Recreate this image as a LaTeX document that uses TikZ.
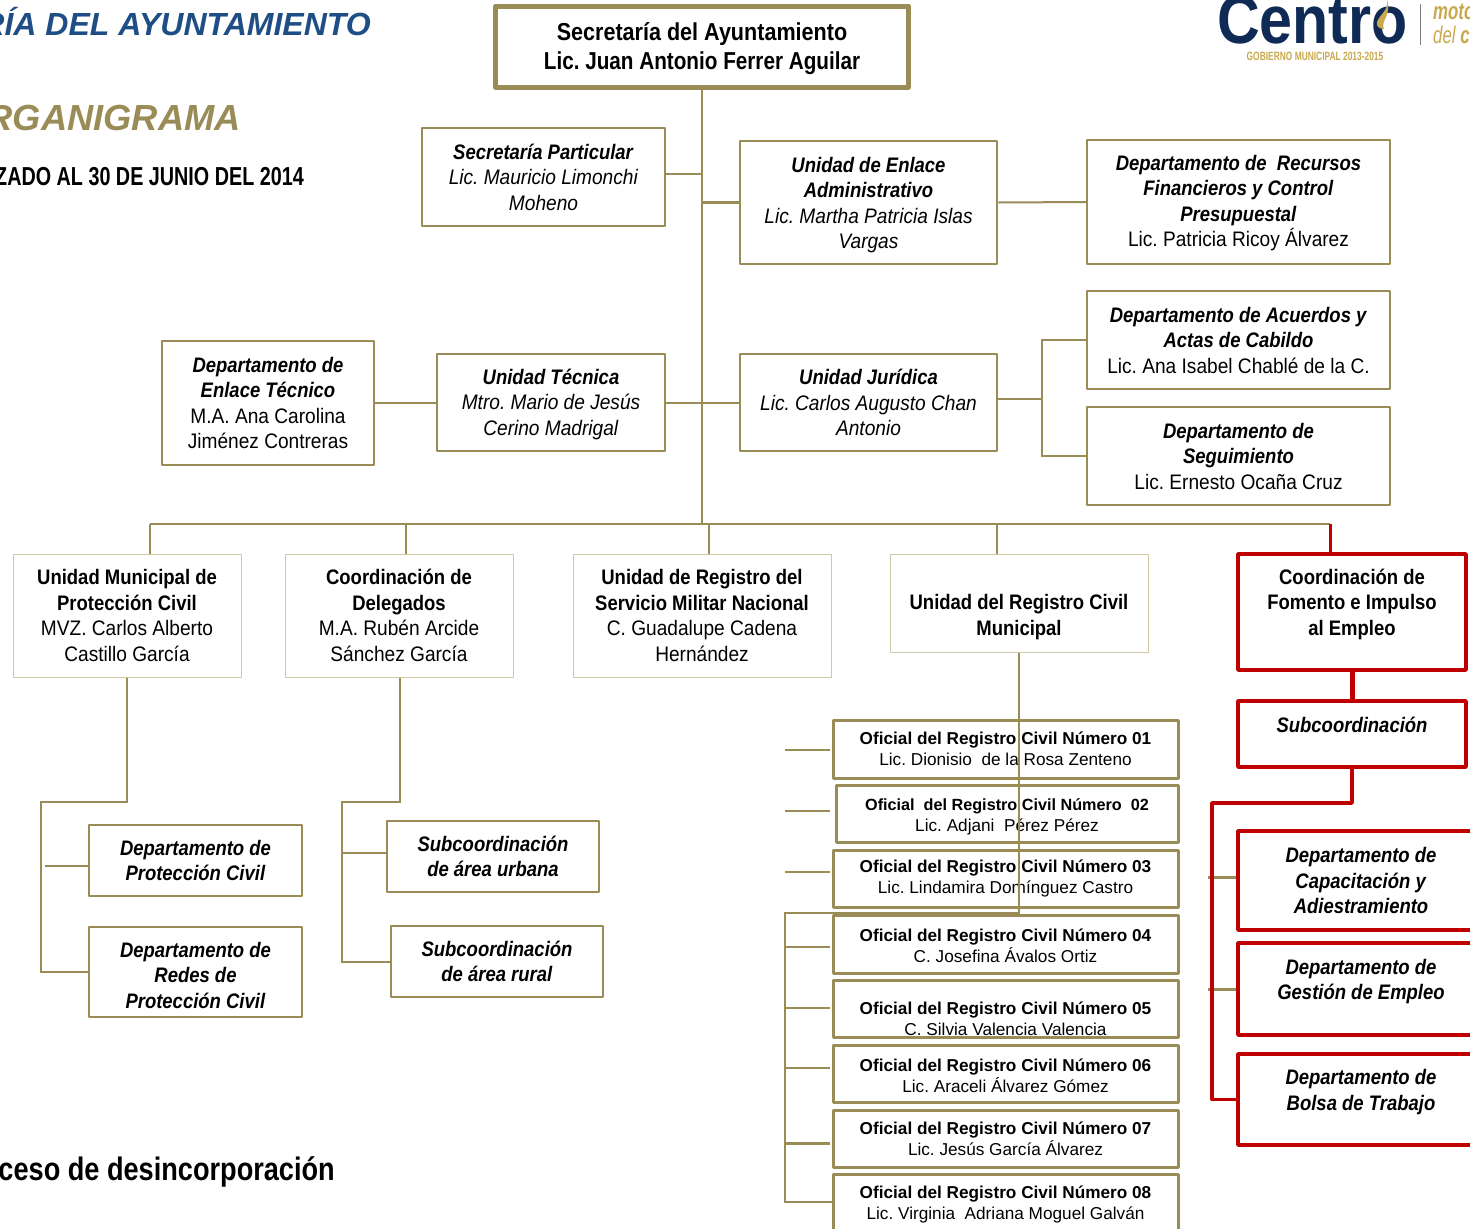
\documentclass[tikz,border=0pt]{standalone}
\usepackage{fontspec}
\setmainfont{Liberation Sans}
\newfontfamily\nar[FakeStretch=0.91,BoldFeatures={FakeStretch=0.88},BoldItalicFeatures={FakeStretch=0.88}]{Liberation Sans}
\newfontfamily\narb[FakeStretch=0.76]{Liberation Sans}
\newfontfamily\narf[FakeStretch=0.835]{Liberation Sans}
\newfontfamily\narl[FakeStretch=0.87]{Liberation Sans}
\newfontfamily\narc[FakeStretch=0.7]{Liberation Sans}
\AtBeginDocument{\frenchspacing}
\definecolor{gold}{HTML}{9A8C57}
\definecolor{pale}{HTML}{CFC9A8}
\definecolor{redl}{HTML}{C00000}
\definecolor{navy}{HTML}{1F4E86}
\definecolor{logon}{HTML}{0F2A55}
\definecolor{logog}{HTML}{C8A94E}
\tikzset{
 base/.style={draw=gold,align=center,inner sep=0pt,line join=round,font=\nar\fontsize{21}{25.5}\selectfont,text=black,fill=white},
 box/.style={base,line width=2.5pt},
 thin/.style={base,draw=pale,line width=1pt},
 redb/.style={base,draw=redl,line width=3.5pt},
 ofi/.style={base,line width=3pt,font=\fontsize{17.2}{21}\selectfont},
 ln/.style={draw=gold,line width=2pt},
 rl/.style={draw=redl,line width=3.5pt,line join=round},
}
\newcommand{\bt}[1]{\textbf{\textit{#1}}}
\newcommand{\ii}[1]{\textit{#1}}
\newcommand{\dn}[1]{\rule{0pt}{#1pt}}
\begin{document}
\begin{tikzpicture}[x=1pt,y=-1pt]
\useasboundingbox (0,0) rectangle (1470,1229);
\clip (0,0) rectangle (1470,1229);
% titles
\node[anchor=east,inner sep=0pt,text=navy,font=\fontsize{32}{36}\selectfont\bfseries\itshape] (t1) at (371,22) {RÍA DEL AYUNTAMIENTO};
\node[anchor=east,inner sep=0pt,text=gold,font=\fontsize{36.3}{40}\selectfont\bfseries\itshape] (t2) at (241,118) {RGANIGRAMA};
\node[anchor=east,inner sep=0pt,font=\narb\fontsize{26}{30}\selectfont\bfseries] (t3) at (304,177) {ZADO AL 30 DE JUNIO DEL 2014};
\node[anchor=east,inner sep=0pt,font=\narf\fontsize{32.5}{36}\selectfont\bfseries] (t4) at (335,1172) {ceso de desincorporación};
% logo
\node[anchor=east,inner sep=0pt,text=logon,font=\narl\fontsize{68}{70}\selectfont\bfseries] (lg) at (1408,20) {Centro};
\fill[logog] (1387,0) .. controls (1389,10) and (1380,14) .. (1377,22) .. controls (1376,27) and (1380,29) .. (1384,29) .. controls (1380,22) and (1392,14) .. (1387,0) -- cycle;
\node[anchor=center,inner sep=0pt,text=logog,font=\narc\fontsize{12}{14}\selectfont\bfseries] (lg2) at (1315,56) {GOBIERNO MUNICIPAL 2013-2015};
\node[anchor=west,inner sep=0pt,text=logog,font=\narc\fontsize{24}{25}\selectfont\bfseries\itshape] (lg3) at (1433,12) {moto};
\node[anchor=west,inner sep=0pt,text=logog,font=\narc\fontsize{24}{25}\selectfont\itshape] (lg4) at (1433,35) {del \textbf{c}};
\coordinate (ba) at (1420,4); \coordinate (bb) at (1420,45);
\draw[gray,line width=1pt] (ba) -- (bb);
% connector coordinates
\coordinate (tr0) at (702,87); \coordinate (tr1) at (702,524);
\coordinate (busL) at (150,524); \coordinate (busR) at (1330,524);
% nodes
\node[base,line width=5pt,minimum width=413pt,minimum height=81pt,font=\nar\fontsize{24.5}{29}\selectfont\bfseries] (sec) at (702,46.5) {\dn{22}Secretaría del Ayuntamiento\\\scalebox{0.96}[1]{Lic. Juan Antonio Ferrer Aguilar}};
\node[box,minimum width=243pt,minimum height=98pt] (part) at (543.5,177) {\bt{Secretaría Particular}\\\ii{Lic. Mauricio Limonchi}\\\ii{Moheno}};
\node[box,minimum width=257pt,minimum height=123pt] (enl) at (868.5,202.5) {\dn{20.3}\bt{Unidad de Enlace}\\\bt{Administrativo}\\\ii{Lic. Martha Patricia Islas}\\\ii{Vargas}};
\node[box,minimum width=303pt,minimum height=124pt] (rec) at (1238.5,202) {\dn{17.3}\bt{Departamento de\ \ Recursos}\\\bt{Financieros y Control}\\\bt{Presupuestal}\\Lic. Patricia Ricoy Álvarez};
\node[box,minimum width=303pt,minimum height=98pt] (acu) at (1238.5,340) {\bt{Departamento de Acuerdos y}\\\bt{Actas de Cabildo}\\Lic. Ana Isabel Chablé de la C.};
\node[box,minimum width=303pt,minimum height=98pt] (seg) at (1238.5,456) {\bt{Departamento de}\\\bt{Seguimiento}\\Lic. Ernesto Ocaña Cruz};
\node[box,minimum width=257pt,minimum height=97pt] (jur) at (868.5,402.5) {\bt{Unidad Jurídica}\\\ii{Lic. Carlos Augusto Chan}\\\ii{Antonio}};
\node[box,minimum width=228pt,minimum height=97pt] (tec) at (551,402.5) {\dn{19.3}\bt{Unidad Técnica}\\\ii{Mtro. Mario de Jesús}\\\ii{Cerino Madrigal}};
\node[box,minimum width=212pt,minimum height=124pt] (etc) at (268,403) {\bt{Departamento de}\\\bt{Enlace Técnico}\\M.A. Ana Carolina\\Jiménez Contreras};
\node[thin,minimum width=228pt,minimum height=123pt] (pc) at (127,615.5) {\textbf{Unidad Municipal de}\\\textbf{Protección Civil}\\MVZ. Carlos Alberto\\Castillo García};
\node[thin,minimum width=228pt,minimum height=123pt] (del) at (399,615.5) {\textbf{Coordinación de}\\\textbf{Delegados}\\M.A. Rubén Arcide\\Sánchez García};
\node[thin,minimum width=258pt,minimum height=123pt] (smn) at (702,615.5) {\textbf{Unidad de Registro del}\\\textbf{Servicio Militar Nacional}\\C. Guadalupe Cadena\\Hernández};
\node[thin,minimum width=258pt,minimum height=98pt] (rc) at (1019,603) {\dn{43.5}\textbf{Unidad del Registro Civil}\\\textbf{Municipal}};
\node[redb,minimum width=228pt,minimum height=116pt] (cfe) at (1352,612) {\textbf{Coordinación de}\\\textbf{Fomento e Impulso}\\\textbf{al Empleo}\\[-6pt]~};
\node[redb,minimum width=228pt,minimum height=66pt] (sub) at (1352,734) {\bt{Subcoordinación}\\[-8pt]~};
\node[box,minimum width=213pt,minimum height=71pt] (dpc) at (195.5,860.5) {\bt{Departamento de}\\\bt{Protección Civil}};
\node[box,minimum width=213pt,minimum height=90pt] (drp) at (195.5,972) {\dn{21.3}\bt{Departamento de}\\\bt{Redes de}\\\bt{Protección Civil}};
\node[box,minimum width=212pt,minimum height=71pt] (sau) at (493,856.5) {\bt{Subcoordinación}\\\bt{de área urbana}};
\node[box,minimum width=212pt,minimum height=71pt] (sar) at (497,961.5) {\bt{Subcoordinación}\\\bt{de área rural}};
\node[ofi,minimum width=345pt,minimum height=58pt] (o1) at (1005.5,749) {\textbf{Oficial del Registro Civil Número 01}\\Lic. Dionisio\ \ de la Rosa Zenteno};
\node[ofi,minimum width=342pt,minimum height=57pt,font=\fontsize{16.2}{21}\selectfont] (o2) at (1007,813.5) {\dn{17.7}\textbf{Oficial\ \ del Registro Civil Número\ \ 02}\\{\fontsize{17.2}{21}\selectfont Lic. Adjani\ \ Pérez Pérez}};
\node[ofi,minimum width=345pt,minimum height=57pt] (o3) at (1005.5,878.5) {\textbf{Oficial del Registro Civil Número 03}\\Lic. Lindamira Domínguez Castro};
\node[ofi,minimum width=345pt,minimum height=58pt] (o4) at (1005.5,944) {\dn{15.5}\textbf{Oficial del Registro Civil Número 04}\\C. Josefina Ávalos Ortiz};
\node[ofi,minimum width=345pt,minimum height=57pt] (o5) at (1005.5,1008.5) {\dn{33.5}\textbf{Oficial del Registro Civil Número 05}\\C. Silvia Valencia Valencia};
\node[ofi,minimum width=345pt,minimum height=57pt] (o6) at (1005.5,1073.5) {\dn{16.5}\textbf{Oficial del Registro Civil Número 06}\\Lic. Araceli Álvarez Gómez};
\node[ofi,minimum width=345pt,minimum height=57pt] (o7) at (1005.5,1138.5) {\textbf{Oficial del Registro Civil Número 07}\\Lic. Jesús García Álvarez};
\node[ofi,minimum width=345pt,minimum height=57pt] (o8) at (1005.5,1202.5) {\dn{16.5}\textbf{Oficial del Registro Civil Número 08}\\Lic. Virginia\ \ Adriana Moguel Galván};
\node[redb,minimum width=246pt,minimum height=99pt] (cap) at (1361,880.5) {\bt{Departamento de}\\\bt{Capacitación y}\\\bt{Adiestramiento}};
\node[redb,minimum width=246pt,minimum height=92pt] (ges) at (1361,989) {\bt{Departamento de}\\\bt{Gestión de Empleo}\\[-6pt]~};
\node[redb,minimum width=246pt,minimum height=91pt] (bol) at (1361,1099.5) {\bt{Departamento de}\\\bt{Bolsa de Trabajo}\\[-6pt]~};
% connectors
\draw[ln] (tr0) -- (tr1);
\coordinate (pa) at (665,174);
\draw[ln] (pa) -- (pa -| tr0);
\draw[ln,line width=3pt] (tr0 |- enl.west) -- (enl.west);
\draw[ln] (enl.east) -- (rec.west);
\draw[ln] (tr0 |- jur.west) -- (jur.west);
\draw[ln] (tec.east) -- (tr0 |- tec.east);
\draw[ln] (etc.east |- tec.west) -- (tec.west);
\coordinate (jb) at (1042,399);
\draw[ln] (jur.east |- jb) -- (jb);
\draw[ln] (acu.west) -| (jb) |- (seg.west);
\draw[ln] (busL) -- (busR);
\draw[ln] (busL) -- (busL |- pc.north);
\coordinate (d2) at (406,524); \coordinate (d3) at (709,524); \coordinate (d4) at (997,524);
\draw[ln] (d2) -- (d2 |- del.north);
\draw[ln] (d3) -- (d3 |- smn.north);
\draw[ln] (d4) -- (d4 |- rc.north);
\draw[rl,line width=3pt] (busR) -- (busR |- cfe.north);
\coordinate (pc1) at (127,802); \coordinate (pc2) at (41,802);
\draw[ln] (pc.south) -- (pc1) -- (pc2) |- (drp.west);
\coordinate (pcs) at (45,866);
\draw[ln] (pcs) -- (pcs -| dpc.west);
\coordinate (de1) at (400,802); \coordinate (de2) at (342,802); \coordinate (des) at (342,853);
\draw[ln] (de1 |- del.south) -- (de1) -- (de2) |- (sar.west);
\draw[ln] (des) -- (des -| sau.west);
\coordinate (r1) at (1019,913); \coordinate (r2) at (785,913); \coordinate (r3) at (785,1202);
\draw[ln] (rc.south) -- (r1) -- (r2) -- (r3) -- (r3 -| o8.west);
\coordinate (s1) at (785,750); \coordinate (s2) at (785,811); \coordinate (s3) at (785,872);
\coordinate (s4) at (785,947); \coordinate (s5) at (785,1008); \coordinate (s6) at (785,1068); \coordinate (s7) at (785,1143);
\coordinate (sx) at (830,0);
\draw[ln] (s1) -- (s1 -| sx);
\draw[ln] (s2) -- (s2 -| sx);
\draw[ln] (s3) -- (s3 -| sx);
\draw[ln] (s4) -- (s4 -| sx);
\draw[ln] (s5) -- (s5 -| sx);
\draw[ln] (s6) -- (s6 -| sx);
\draw[ln,line width=3pt] (s7) -- (s7 -| sx);
\coordinate (c0) at (1352,670);
\draw[rl,line width=5pt] (c0) -- (c0 |- sub.north);
\coordinate (g1) at (1208,877); \coordinate (g2) at (1208,989);
\draw[ln,line width=3pt] (g1) -- (g1 -| cap.west);
\draw[ln,line width=3pt] (g2) -- (g2 -| ges.west);
\coordinate (c1) at (1352,803); \coordinate (c2) at (1212,803);
\draw[rl] (c1 |- sub.south) -- (c1) -- (c2) |- (bol.west);
\end{tikzpicture}
\end{document}
